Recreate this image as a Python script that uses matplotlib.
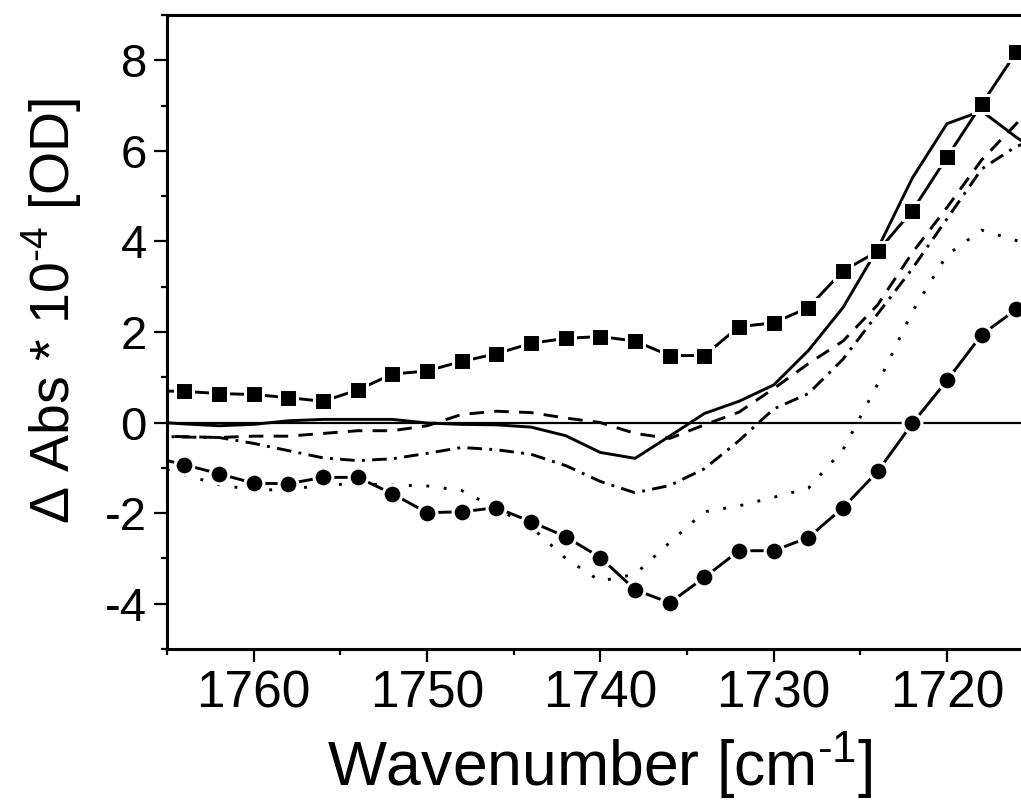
import numpy as np
import matplotlib
matplotlib.use('Agg')
import matplotlib.pyplot as plt

plt.rcParams['font.family'] = ['Liberation Sans', 'DejaVu Sans']
plt.rcParams['mathtext.fontset'] = 'custom'
plt.rcParams['mathtext.rm'] = 'Liberation Sans'
plt.rcParams['axes.unicode_minus'] = False

# Wavenumber grid (cm-1), every 2 cm-1
wavenumber = [1766, 1764, 1762, 1760, 1758, 1756, 1754, 1752, 1750, 1748,
              1746, 1744, 1742, 1740, 1738, 1736, 1734, 1732, 1730, 1728,
              1726, 1724, 1722, 1720, 1718, 1716, 1714]

# Difference spectra, Delta Abs * 1e-4
squares = [0.70, 0.69, 0.64, 0.62, 0.55, 0.47, 0.72, 1.07, 1.14, 1.35,
           1.52, 1.75, 1.86, 1.90, 1.80, 1.48, 1.48, 2.12, 2.20, 2.54,
           3.35, 3.78, 4.68, 5.86, 7.03, 8.18, 9.30]
circles = [-0.75, -0.93, -1.13, -1.34, -1.35, -1.21, -1.21, -1.57, -1.99, -1.97,
           -1.88, -2.19, -2.52, -2.98, -3.69, -3.98, -3.42, -2.83, -2.83, -2.54,
           -1.88, -1.08, -0.02, 0.93, 1.94, 2.50, 2.90]
solid = [0.02, -0.03, -0.07, -0.04, 0.04, 0.07, 0.07, 0.07, -0.01, -0.04,
         -0.05, -0.10, -0.29, -0.66, -0.79, -0.30, 0.20, 0.47, 0.83, 1.59,
         2.54, 3.84, 5.40, 6.60, 6.88, 6.30, 5.80]
dashed = [-0.30, -0.31, -0.33, -0.30, -0.30, -0.24, -0.18, -0.18, -0.07, 0.18,
          0.25, 0.22, 0.10, 0.00, -0.24, -0.35, -0.05, 0.23, 0.75, 1.30,
          1.80, 2.60, 3.75, 4.75, 5.80, 6.60, 7.30]
dashdot = [-0.30, -0.32, -0.33, -0.46, -0.62, -0.78, -0.84, -0.80, -0.68, -0.55,
           -0.60, -0.70, -0.95, -1.30, -1.55, -1.39, -1.02, -0.40, 0.30, 0.64,
           1.40, 2.40, 3.40, 4.50, 5.60, 6.10, 6.35]
dotted = [-0.95, -1.15, -1.37, -1.49, -1.48, -1.38, -1.35, -1.38, -1.40, -1.50,
          -1.90, -2.30, -3.00, -3.50, -3.35, -2.65, -1.97, -1.84, -1.65, -1.45,
          -0.60, 0.85, 2.45, 3.70, 4.25, 4.02, 3.80]

fig = plt.figure(figsize=(10.21, 8.07), dpi=100)
# right side of the axes runs past the figure edge, as in the original crop
ax = fig.add_axes([0.1636, 0.1958, 0.8488, 0.7856])

lw = 2.1
ax.axhline(0, color='black', lw=1.6, zorder=1)
ax.plot(wavenumber, solid, color='black', lw=lw, ls='-', zorder=2)
ax.plot(wavenumber, dashed, color='black', lw=lw, ls=(0, (5, 3.5)), zorder=2)
ax.plot(wavenumber, dashdot, color='black', lw=lw, ls=(0, (5, 2.5, 1, 2.5)), zorder=2)
ax.plot(wavenumber, dotted, color='black', lw=lw, ls=(0, (1, 5)), zorder=2)
ax.plot(wavenumber, squares, color='black', lw=lw, ls='-', marker='s',
        markersize=12.5, markerfacecolor='black', markeredgecolor='white',
        markeredgewidth=2.2, zorder=3)
ax.plot(wavenumber, circles, color='black', lw=lw, ls='-', marker='o',
        markersize=13.5, markerfacecolor='black', markeredgecolor='white',
        markeredgewidth=2.2, zorder=3)

ax.set_xlim(1765, 1715)
ax.set_ylim(-5, 9)
ax.set_xticks([1760, 1750, 1740, 1730, 1720])
ax.set_xticks(np.arange(1765, 1714, -5), minor=True)
ax.set_yticks([-4, -2, 0, 2, 4, 6, 8])
ax.set_yticks(np.arange(-5, 10, 1), minor=True)

ax.tick_params(which='major', direction='out', length=9.5, width=1.6, pad=5)
ax.tick_params(which='minor', direction='out', length=4.5, width=1.6)
ax.tick_params(axis='x', which='major', labelsize=37)
ax.tick_params(axis='y', which='major', labelsize=34)
ax.tick_params(top=False, right=False)
for side in ['left', 'bottom', 'top']:
    ax.spines[side].set_linewidth(2.2)
ax.spines['right'].set_visible(False)

ax.set_xlabel('Wavenumber [cm$^{\u2010 1}$]', fontsize=45, labelpad=8)
ax.set_ylabel('$\\Delta$ Abs * 10$^{\u20104}$ [OD]', fontsize=40)
ax.yaxis.set_label_coords(-0.096, 0.533)

fig.savefig('out.png', dpi=100)
